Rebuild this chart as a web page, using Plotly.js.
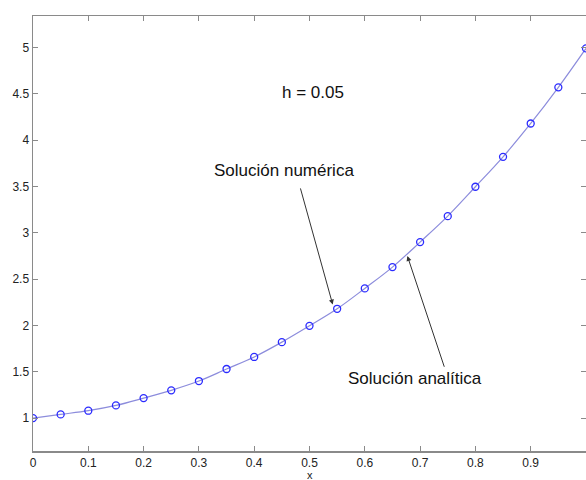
<!DOCTYPE html>
<html><head><meta charset="utf-8">
<script src="https://cdn.plot.ly/plotly-3.0.1.min.js"></script>
<style>html,body{margin:0;padding:0;background:#fff}#chart{width:586px;height:480px}</style>
</head><body><div id="chart"></div>
<script>
const xVals = [0,0.05,0.1,0.15,0.2,0.25,0.3,0.35,0.4,0.45,0.5,0.55,0.6,0.65,0.7,0.75,0.8,0.85,0.9,0.95,1.0];
const yNum  = [1.0,1.04,1.08,1.137,1.216,1.30,1.40,1.53,1.66,1.82,1.996,2.18,2.40,2.63,2.90,3.18,3.497,3.82,4.18,4.57,4.99];
const xTicks = [0,0.1,0.2,0.3,0.4,0.5,0.6,0.7,0.8,0.9,1];
const xTickText = ['0','0.1','0.2','0.3','0.4','0.5','0.6','0.7','0.8','0.9','1'];
const yTicks = [1,1.5,2,2.5,3,3.5,4,4.5,5];
const yTickText = ['1','1.5','2','2.5','3','3.5','4','4.5','5'];

const FONT = 'Liberation Sans, Arial, sans-serif';
const traces = [
  {x:xVals, y:yNum, mode:'lines', line:{color:'#8c8cdc', width:1.2, shape:'spline'}, hoverinfo:'skip'},
  {x:xVals, y:yNum, mode:'markers', marker:{symbol:'circle-open', size:7, color:'#2a2aff', line:{width:1.3, color:'#2a2aff'}}}
];
const axisCommon = {showgrid:false, zeroline:false, showline:true, linecolor:'#8a8a8a', linewidth:1.5,
  ticks:'inside', ticklen:5, tickcolor:'#8a8a8a', mirror:'ticks',
  tickfont:{family:FONT, size:12, color:'#222'}};
const layout = {
  width:586, height:480, showlegend:false, paper_bgcolor:'#fff', plot_bgcolor:'#fff',
  margin:{l:33, r:0, t:16, b:29},
  xaxis: Object.assign({}, axisCommon, {range:[0,1], tickvals:xTicks, ticktext:xTickText}),
  yaxis: Object.assign({}, axisCommon, {range:[0.645,5.34], tickvals:yTicks, ticktext:yTickText}),
  annotations:[
    {x:0.507, y:4.51, xref:'x', yref:'y', text:'h = 0.05', showarrow:false,
      font:{family:FONT, size:17, color:'#111'}},
    {x:0.542, y:2.225, ax:-32.7, ay:-117.7, xref:'x', yref:'y', text:'', showarrow:true,
      arrowhead:2, arrowsize:1, arrowwidth:1, arrowcolor:'#333'},
    {x:0.454, y:3.67, xref:'x', yref:'y', text:'Solución numérica', showarrow:false,
      font:{family:FONT, size:17, color:'#111'}},
    {x:0.677, y:2.75, ax:37.4, ay:112.3, xref:'x', yref:'y', text:'', showarrow:true,
      arrowhead:2, arrowsize:1, arrowwidth:1, arrowcolor:'#333'},
    {x:0.691, y:1.428, xref:'x', yref:'y', text:'Solución analítica', showarrow:false,
      font:{family:FONT, size:17, color:'#111'}},
    {x:0.5, y:-0.04, xref:'x', yref:'paper', yanchor:'top', text:'x', showarrow:false,
      borderpad:0, font:{family:FONT, size:11, color:'#222'}}
  ]
};
Plotly.newPlot('chart', traces, layout, {staticPlot:true});
</script></body></html>
